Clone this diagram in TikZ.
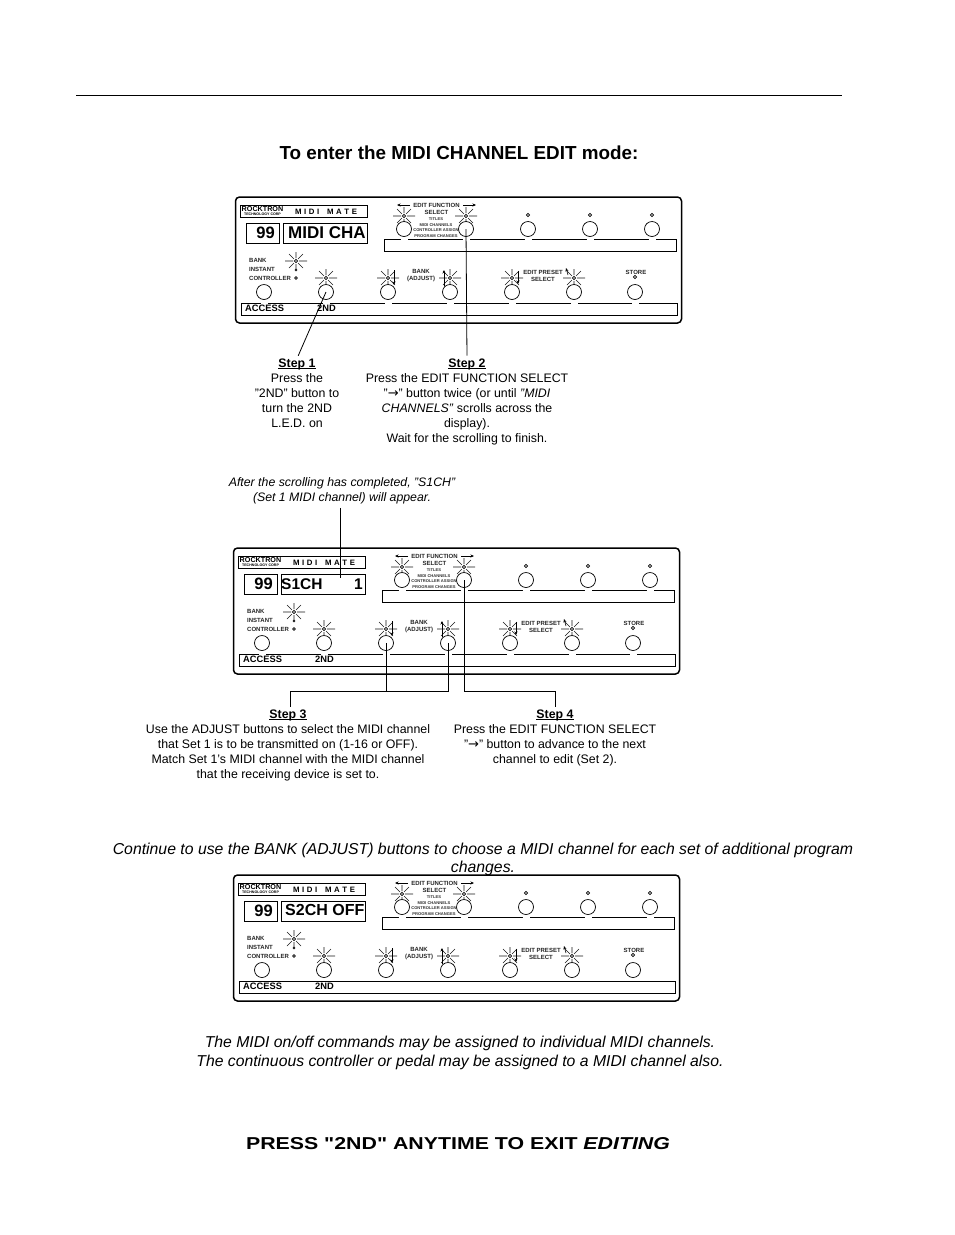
\documentclass[tikz,border=0pt]{standalone}
\usepackage{fontspec}
\setmainfont{Liberation Sans}
\newfontfamily\dvfont{DejaVu Sans}
\newfontfamily\widefont[FakeStretch=1.24]{Liberation Sans}
\usetikzlibrary{arrows.meta}
\newcommand{\fs}[2]{\fontsize{#1}{#2}\selectfont}
\newcommand{\stepul}[1]{\setbox0=\hbox{\bfseries #1}\rlap{\box0}\setbox0=\hbox{\bfseries #1}\raisebox{-1.6pt}{\rule{\wd0}{0.8pt}}}
\tikzset{
  panelbox/.style={draw=black,line width=1.5pt,rounded corners=4pt},
  thinbox/.style={draw=black,line width=0.8pt},
  btn/.style={draw=black,fill=white,line width=0.7pt,circle,minimum size=15pt,inner sep=0pt},
  lamp/.style={draw=black,fill=white,line width=0.7pt,circle,minimum size=3.4pt,inner sep=0pt},
  lbl/.style={inner sep=0pt,font=\bfseries\fs{6}{7},text=black!85,align=center},
  tiny/.style={inner sep=0pt,font=\bfseries\fs{4.1}{5.7},text=black!80,align=center},
  ray/.style={line width=0.6pt,draw=black!90},
  tip/.style={line width=0.6pt,-{Stealth[length=3.5pt,width=3pt]}},
  conn/.style={draw=black,line width=0.8pt},
  body/.style={inner sep=0pt,anchor=north,align=center,font=\fs{12.35}{15}},
  gapline/.style={draw=white,line width=1.6pt}
}
\newcommand{\burst}[3]{%
  \node[lamp] (#1) at (#2,#3) {};
  \draw[ray] (#2+3,#3) -- (#2+11,#3) (#2-3,#3) -- (#2-11,#3)
     (#2,#3+3) -- (#2,#3+9) (#2,#3-3) -- (#2,#3-9)
     (#2+2,#3+2) -- (#2+7,#3+7) (#2-2,#3+2) -- (#2-7,#3+7)
     (#2+2,#3-2) -- (#2+7,#3-7) (#2-2,#3-2) -- (#2-7,#3-7);
}
\newcommand{\panel}[3]{%
\begin{scope}[shift={(#2,#3)},name prefix=#1-]
  \node[panelbox,minimum width=446pt,minimum height=126pt,inner sep=0pt] (frame) at (458.5,260) {};
  % header
  \node[thinbox,minimum width=127pt,minimum height=12pt,inner sep=0pt] (logo) at (303.5,211) {};
  \node[inner sep=0pt,font=\bfseries\fs{7.2}{8}] (brand) at (262.5,209) {ROCKTRON};
  \node[inner sep=0pt,font=\bfseries\fs{3.6}{4}] (brandsub) at (262.5,214.6) {TECHNOLOGY CORP};
  \node[inner sep=0pt,font=\bfseries\fs{7.8}{8}] (mate) at (326,211.5) {M\,\,I\,\,D\,\,I\,\,\,\,\,\,M\,\,A\,\,T\,\,E};
  \node[thinbox,minimum width=33pt,minimum height=20pt,inner sep=0pt] (numbox) at (262.5,233) {};
  \node[thinbox,minimum width=84pt,minimum height=20pt,inner sep=0pt] (dispbox) at (325,233) {};
  % strips
  \node[thinbox,minimum width=292pt,minimum height=12pt,inner sep=0pt] (topstrip) at (530,245.5) {};
  \node[thinbox,minimum width=436pt,minimum height=12pt,inner sep=0pt] (botstrip) at (459,309) {};
  % upper row
  \burst{ledL}{404}{216}
  \burst{ledR}{466}{216}
  \node[lamp] (ledA) at (528,215) {};
  \node[lamp] (ledB) at (590,215) {};
  \node[lamp] (ledC) at (652,215) {};
  \foreach \n/\x in {bL/404,bR/466,bA/528,bB/590,bC/652}{\node[btn] (\n) at (\x,229) {};}
  \node[lbl] (efs) at (436.5,208.5) {EDIT FUNCTION\\SELECT};
  \draw[tip] (410,205) -- (397,205);
  \draw[tip] (463,205) -- (476,205);
  \node[tiny] (mnu) at (436,227.7) {TITLES\\MIDI CHANNELS\\CONTROLLER ASSIGN\\PROGRAM CHANGES};
  % lower row
  \node[lbl,align=left,anchor=west,font=\bfseries\fs{6}{8.6}] (bic) at (249,269.5) {BANK\\INSTANT\\CONTROLLER};
  \burst{ledBank}{296}{261}
  \node[draw=black,fill=black!70,circle,inner sep=0pt,minimum size=2.2pt] (ledI) at (296,270) {};
  \node[lamp,minimum size=2.8pt] (ledCt) at (296,278) {};
  \burst{ledS}{326}{278}
  \burst{ledD}{388}{278}
  \burst{ledU}{450}{278}
  \burst{ledE}{512}{278}
  \burst{ledF}{574}{278}
  \node[lamp] (ledSt) at (635,277) {};
  \foreach \n/\x in {bAcc/264,bS/326,bD/388,bU/450,bE/512,bF/574,bSt/635}{\node[btn] (\n) at (\x,292) {};}
  \draw[tip] (394,270) -- (394,285);
  \draw[tip] (444,286) -- (444,270);
  \draw[tip] (518,271) -- (518,284);
  \draw[tip] (568,275) -- (566,268);
  \node[lbl] (bankl) at (421,275.5) {BANK\\(ADJUST)};
  \node[lbl] (presl) at (543,275.5) {EDIT PRESET\\SELECT};
  \node[lbl] (storel) at (636,272) {STORE};
  \node[inner sep=0pt,anchor=west,font=\bfseries\fs{9.3}{10}] (acc) at (245,308.5) {ACCESS};
  \node[inner sep=0pt,anchor=west,font=\bfseries\fs{9.3}{10}] (snd) at (317,308.5) {2ND};
\end{scope}}
\begin{document}
\begin{tikzpicture}[x=1pt,y=-1pt]
\useasboundingbox (0,0) rectangle (954,1235);
\fill[white] (0,0) rectangle (954,1235);
\coordinate (ruleL) at (76,95);
\coordinate (ruleR) at (842,95);
\draw[line width=1pt] (ruleL) -- (ruleR);
\node[inner sep=0pt,font=\bfseries\fs{18.85}{20}] (title) at (459,153) {To enter the MIDI CHANNEL EDIT mode:};

% panel 1
\panel{p1}{0}{0}
\foreach \x/\n in {404/a,466/b,528/c,590/d,652/e}{\draw[gapline] (\x-3.5,239.5) -- (\x+3.5,239.5);}
\foreach \x/\n in {264/a,326/b,388/c,450/d,512/e,574/f,635/g}{\draw[gapline] (\x-3.5,303) -- (\x+3.5,303);}
\node[inner sep=0pt,anchor=east,font=\bfseries\fs{16.5}{17}] (n1) at (275,233) {99};
\node[inner sep=0pt,anchor=west,font=\bfseries\fs{17}{18}] (d1) at (288,233) {MIDI CHA};

% steps 1,2
\node[body] (s1) at (297,358.5) {\stepul{Step 1}\\Press the\\"2ND" button to\\turn the 2ND\\L.E.D. on};
\node[body] (s2) at (467,358.5) {\stepul{Step 2}\\Press the EDIT FUNCTION SELECT\\"{\dvfont\fs{13}{15}→}" button twice (or until \textit{"MIDI}\\\textit{CHANNELS"} scrolls across the\\display).\\Wait for the scrolling to finish.};
\draw[conn,shorten >=3pt] (p1-bS.center) -- (s1.north);
\draw[conn,shorten >=3pt] (p1-bR.center) -- (s2.north);

% panel 2
\node[inner sep=0pt,align=center,anchor=north,font=\itshape\fs{12.3}{15}] (note) at (342,477) {After the scrolling has completed, "S1CH"\\(Set 1 MIDI channel) will appear.};
\panel{p2}{-2}{351}
\foreach \x/\n in {402/a,464/b,526/c,588/d,650/e}{\draw[gapline] (\x-3.5,590.5) -- (\x+3.5,590.5);}
\foreach \x/\n in {262/a,324/b,386/c,448/d,510/e,572/f,633/g}{\draw[gapline] (\x-3.5,654) -- (\x+3.5,654);}
\node[inner sep=0pt,anchor=east,font=\bfseries\fs{16.5}{17}] (n2) at (273,584) {99};
\node[inner sep=0pt,anchor=west,font=\bfseries\fs{15.5}{16}] (d2a) at (281,584) {S1CH};
\node[inner sep=0pt,anchor=east,font=\bfseries\fs{15.5}{16}] (d2b) at (363,584) {1};
\coordinate (noteEnd) at (340,578);
\draw[conn,shorten <=4pt] (note.south -| noteEnd) -- (noteEnd);

% steps 3,4
\node[body] (s3) at (288,709.5) {\stepul{Step 3}\\Use the ADJUST buttons to select the MIDI channel\\that Set 1 is to be transmitted on (1-16 or OFF).\\Match Set 1's MIDI channel with the MIDI channel\\that the receiving device is set to.};
\node[body] (s4) at (555,709.5) {\stepul{Step 4}\\Press the EDIT FUNCTION SELECT\\"{\dvfont\fs{13}{15}→}" button to advance to the next\\channel to edit (Set 2).};
\coordinate (j3a) at (290,691);
\coordinate (j4a) at (555,691);
\draw[conn] (p2-bD.center) -- (p2-bD.center |- j3a);
\draw[conn,shorten >=3pt] (p2-bU.center) -- (p2-bU.center |- j3a) -- (j3a) -- (s3.north -| j3a);
\draw[conn,shorten >=3pt] (p2-bR.center) -- (p2-bR.center |- j4a) -- (j4a) -- (s4.north);

% continue text
\node[inner sep=0pt,align=center,anchor=north,font=\itshape\fs{15.8}{17.5}] (cont) at (483,843) {Continue to use the BANK (ADJUST) buttons to choose a MIDI channel for each set of additional program\\changes.};

% panel 3
\panel{p3}{-2}{678}
\foreach \x/\n in {402/a,464/b,526/c,588/d,650/e}{\draw[gapline] (\x-3.5,917.5) -- (\x+3.5,917.5);}
\node[inner sep=0pt,anchor=east,font=\bfseries\fs{16.5}{17}] (n3) at (273,911) {99};
\node[inner sep=0pt,anchor=west,font=\bfseries\fs{16}{17}] (d3) at (285,910) {S2CH OFF};

% bottom text
\node[inner sep=0pt,align=center,anchor=north,font=\itshape\fs{15.75}{19}] (midi) at (460,1036) {The MIDI on/off commands may be assigned to individual MIDI channels.\\The continuous controller or pedal may be assigned to a MIDI channel also.};
\node[inner sep=0pt,font={\widefont\bfseries\fs{17.2}{18}}] (press) at (458,1144) {PRESS "2ND" ANYTIME TO EXIT \textit{EDITING}};
\end{tikzpicture}
\end{document}
